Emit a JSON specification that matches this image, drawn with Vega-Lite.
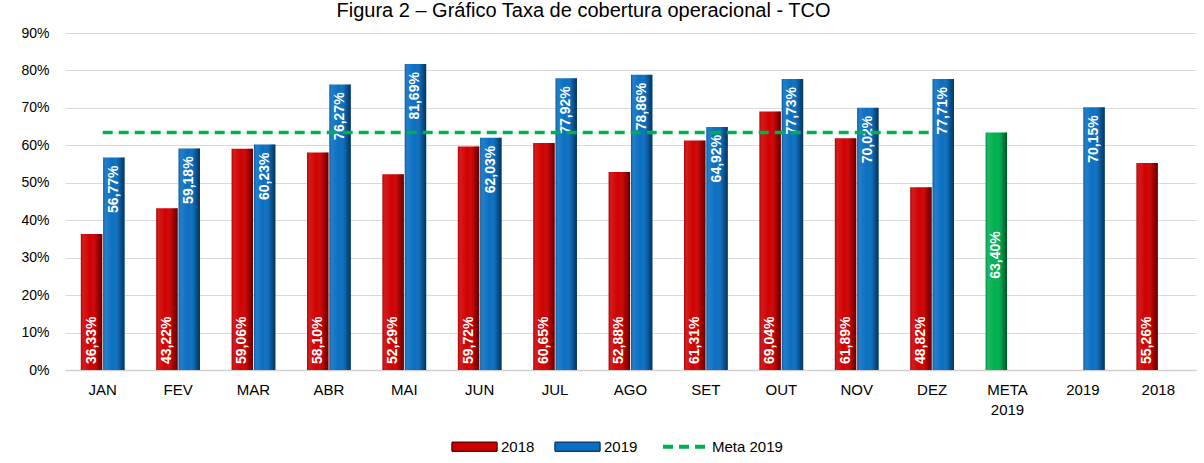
{
  "$schema": "https://vega.github.io/schema/vega-lite/v6.json",
  "width": 1131,
  "height": 337,
  "autosize": "none",
  "padding": {"left": 65, "top": 33, "right": 8, "bottom": 93},
  "background": "white",
  "title": {
    "text": "Figura 2 – Gráfico Taxa de cobertura operacional - TCO",
    "font": "Liberation Sans, Arial, sans-serif",
    "fontSize": 20,
    "fontWeight": "normal",
    "color": "#000000",
    "anchor": "middle",
    "baseline": "alphabetic",
    "offset": 0,
    "dy": 11,
    "dx": -47
  },
  "datasets": {
    "barras": [
      {"mes": "JAN", "ano": "2018", "legenda": "2018", "valor": 0.3633},
      {"mes": "JAN", "ano": "2019", "legenda": "2019", "valor": 0.5677},
      {"mes": "FEV", "ano": "2018", "legenda": "2018", "valor": 0.4322},
      {"mes": "FEV", "ano": "2019", "legenda": "2019", "valor": 0.5918},
      {"mes": "MAR", "ano": "2018", "legenda": "2018", "valor": 0.5906},
      {"mes": "MAR", "ano": "2019", "legenda": "2019", "valor": 0.6023},
      {"mes": "ABR", "ano": "2018", "legenda": "2018", "valor": 0.5810},
      {"mes": "ABR", "ano": "2019", "legenda": "2019", "valor": 0.7627},
      {"mes": "MAI", "ano": "2018", "legenda": "2018", "valor": 0.5229},
      {"mes": "MAI", "ano": "2019", "legenda": "2019", "valor": 0.8169},
      {"mes": "JUN", "ano": "2018", "legenda": "2018", "valor": 0.5972},
      {"mes": "JUN", "ano": "2019", "legenda": "2019", "valor": 0.6203},
      {"mes": "JUL", "ano": "2018", "legenda": "2018", "valor": 0.6065},
      {"mes": "JUL", "ano": "2019", "legenda": "2019", "valor": 0.7792},
      {"mes": "AGO", "ano": "2018", "legenda": "2018", "valor": 0.5288},
      {"mes": "AGO", "ano": "2019", "legenda": "2019", "valor": 0.7886},
      {"mes": "SET", "ano": "2018", "legenda": "2018", "valor": 0.6131},
      {"mes": "SET", "ano": "2019", "legenda": "2019", "valor": 0.6492},
      {"mes": "OUT", "ano": "2018", "legenda": "2018", "valor": 0.6904},
      {"mes": "OUT", "ano": "2019", "legenda": "2019", "valor": 0.7773},
      {"mes": "NOV", "ano": "2018", "legenda": "2018", "valor": 0.6189},
      {"mes": "NOV", "ano": "2019", "legenda": "2019", "valor": 0.7002},
      {"mes": "DEZ", "ano": "2018", "legenda": "2018", "valor": 0.4882},
      {"mes": "DEZ", "ano": "2019", "legenda": "2019", "valor": 0.7771},
      {"mes": "META 2019", "ano": "2018", "legenda": "Meta 2019", "valor": 0.6340},
      {"mes": "2019", "ano": "2019", "legenda": "2019", "valor": 0.7015},
      {"mes": "2018", "ano": "2018", "legenda": "2018", "valor": 0.5526}
    ],
    "meta": [
      {"mes": "JAN", "valor": 0.634},
      {"mes": "FEV", "valor": 0.634},
      {"mes": "MAR", "valor": 0.634},
      {"mes": "ABR", "valor": 0.634},
      {"mes": "MAI", "valor": 0.634},
      {"mes": "JUN", "valor": 0.634},
      {"mes": "JUL", "valor": 0.634},
      {"mes": "AGO", "valor": 0.634},
      {"mes": "SET", "valor": 0.634},
      {"mes": "OUT", "valor": 0.634},
      {"mes": "NOV", "valor": 0.634},
      {"mes": "DEZ", "valor": 0.634}
    ]
  },
  "encoding": {
    "x": {
      "field": "mes",
      "type": "nominal",
      "sort": null,
      "scale": {
        "domain": ["JAN", "FEV", "MAR", "ABR", "MAI", "JUN", "JUL", "AGO", "SET", "OUT", "NOV", "DEZ", "META 2019", "2019", "2018"],
        "paddingInner": 0.42,
        "paddingOuter": 0.21
      },
      "axis": {
        "title": null,
        "labelAngle": 0,
        "labelFont": "Liberation Sans, Arial, sans-serif",
        "labelFontSize": 15,
        "labelColor": "#000000",
        "labelPadding": 12,
        "labelLineHeight": 20,
        "labelExpr": "datum.label == 'META 2019' ? ['META', '2019'] : datum.label",
        "ticks": false,
        "domainColor": "#d0d0d0",
        "domainWidth": 1.5
      }
    },
    "y": {
      "field": "valor",
      "type": "quantitative",
      "scale": {"domain": [0, 0.9], "nice": false},
      "axis": {
        "title": null,
        "values": [0, 0.1, 0.2, 0.3, 0.4, 0.5, 0.6, 0.7, 0.8, 0.9],
        "format": ".0%",
        "labelFont": "Liberation Sans, Arial, sans-serif",
        "labelFontSize": 14,
        "labelColor": "#000000",
        "labelPadding": 16,
        "ticks": false,
        "domain": false,
        "gridColor": "#d9d9d9",
        "gridWidth": 1
      }
    }
  },
  "layer": [
    {
      "data": {"name": "barras"},
      "mark": {"type": "bar"},
      "encoding": {
        "xOffset": {"field": "ano", "type": "nominal", "scale": {"domain": ["2018", "2019"], "paddingInner": 0.04}},
        "color": {
          "field": "legenda",
          "type": "nominal",
          "scale": {"domain": ["2018", "2019", "Meta 2019"], "range": ["#d00000", "#0a6fc2", "#00b050"]},
          "legend": {
            "title": null,
            "orient": "none",
            "legendX": 402,
            "legendY": 406,
            "direction": "horizontal",
            "columnPadding": 17,
            "labelOffset": 19,
            "labelFont": "Liberation Sans, Arial, sans-serif",
            "labelFontSize": 15,
            "labelColor": "#000000",
            "symbolSize": 2025,
            "encode": {
              "symbols": {
                "update": {
                  "shape": {"signal": "datum.value === 'Meta 2019' ? 'stroke' : 'M-1,-0.2H1V0.2H-1Z'"},
                  "fill": {"signal": "datum.value === 'Meta 2019' ? 'transparent' : (datum.value === '2018' ? '#c00000' : '#0a6fc2')"},
                  "stroke": {"signal": "datum.value === 'Meta 2019' ? '#00b050' : (datum.value === '2018' ? '#6a0000' : '#0a3f70')"},
                  "strokeWidth": {"signal": "datum.value === 'Meta 2019' ? 4 : 1.5"},
                  "strokeDash": {"signal": "datum.value === 'Meta 2019' ? [10, 6] : [1, 0]"},
                  "opacity": {"value": 1}
                }
              }
            }
          }
        }
      }
    },
    {
      "data": {"name": "barras"},
      "mark": {
        "type": "bar",
        "fill": {
          "gradient": "linear",
          "x1": 0, "y1": 0, "x2": 1, "y2": 0,
          "stops": [
            {"offset": 0, "color": "rgba(0,0,0,0.22)"},
            {"offset": 0.12, "color": "rgba(255,255,255,0.10)"},
            {"offset": 0.45, "color": "rgba(255,255,255,0.0)"},
            {"offset": 0.78, "color": "rgba(0,0,0,0.18)"},
            {"offset": 1, "color": "rgba(0,0,0,0.55)"}
          ]
        }
      },
      "encoding": {
        "xOffset": {"field": "ano", "type": "nominal"}
      }
    },
    {
      "data": {"name": "barras"},
      "transform": [{"filter": "datum.legenda === '2018'"}],
      "mark": {
        "type": "text",
        "angle": 270,
        "align": "left",
        "baseline": "middle",
        "dx": 6,
        "font": "Liberation Sans Narrow, Liberation Sans, Arial, sans-serif",
        "fontSize": 14,
        "fontWeight": "bold",
        "color": "#ffffff"
      },
      "encoding": {
        "xOffset": {"field": "ano", "type": "nominal"},
        "y": {"datum": 0},
        "text": {"field": "valor", "type": "quantitative", "format": ".2%"}
      }
    },
    {
      "data": {"name": "barras"},
      "transform": [{"filter": "datum.legenda === '2019'"}],
      "mark": {
        "type": "text",
        "angle": 270,
        "align": "right",
        "baseline": "middle",
        "dx": -8,
        "font": "Liberation Sans Narrow, Liberation Sans, Arial, sans-serif",
        "fontSize": 14,
        "fontWeight": "bold",
        "color": "#ffffff"
      },
      "encoding": {
        "xOffset": {"field": "ano", "type": "nominal"},
        "text": {"field": "valor", "type": "quantitative", "format": ".2%"}
      }
    },
    {
      "data": {"name": "barras"},
      "transform": [{"filter": "datum.legenda === 'Meta 2019'"}],
      "mark": {
        "type": "text",
        "angle": 270,
        "align": "center",
        "baseline": "middle",
        "dx": 115,
        "font": "Liberation Sans Narrow, Liberation Sans, Arial, sans-serif",
        "fontSize": 14,
        "fontWeight": "bold",
        "color": "#ffffff"
      },
      "encoding": {
        "xOffset": {"field": "ano", "type": "nominal"},
        "y": {"datum": 0},
        "text": {"field": "valor", "type": "quantitative", "format": ".2%"}
      }
    },
    {
      "data": {"name": "meta"},
      "mark": {"type": "line", "color": "#00b050", "strokeWidth": 3.5, "strokeDash": [10, 6], "strokeCap": "butt"},
      "encoding": {}
    }
  ],
  "config": {
    "locale": {
      "number": {"decimal": ",", "thousands": ".", "grouping": [3], "currency": ["R$", ""]}
    },
    "view": {"stroke": null},
    "axis": {"labelFont": "Liberation Sans, Arial, sans-serif"}
  }
}
